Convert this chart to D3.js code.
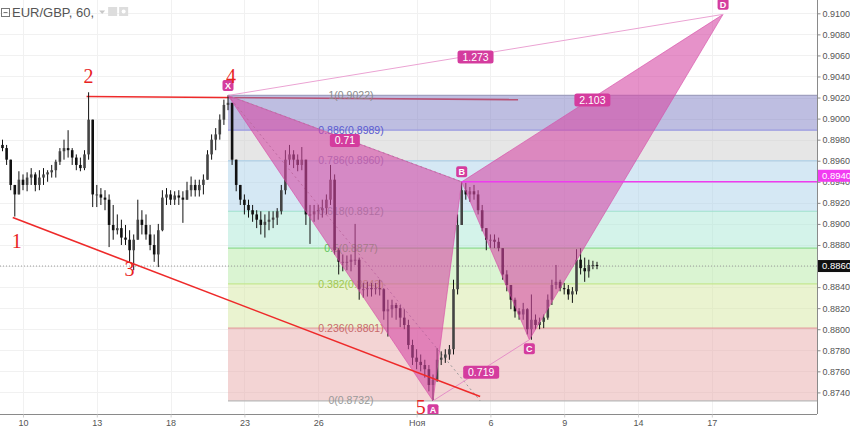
<!DOCTYPE html>
<html><head><meta charset="utf-8">
<script src="https://cdn.jsdelivr.net/npm/d3@7"></script>
<style>body{margin:0;background:#fff;}svg{display:block;font-family:"Liberation Sans",Arial,sans-serif;}</style>
</head><body><svg id="c" width="850" height="429"></svg>
<script>
// ---------- DATA ----------
// 4-hour bars (EUR/GBP), starting 20h before Oct 10 00:00 (trading-hour index)
const barStartHour = -20, barHours = 4, firstOpen = 0.8975;
const highs = [.8980,.8975,.8961,.8937,.8950,.8947,.8949,.8953,.8949,.8951,
.8953,.8951,.8956,.8961,.8972,.8980,.8989,.8972,.8966,.8963,
.8970,.9025,.8999,.8937,.8934,.8932,.8928,.8918,.8909,.8904,
.8899,.8894,.8890,.8923,.8913,.8909,.8899,.8890,.8900,.8932,
.8934,.8932,.8931,.8932,.8931,.8940,.8945,.8942,.8942,.8947,
.8970,.8985,.8991,.9004,.9018,.9022,.9015,.8961,.8937,.8928,
.8923,.8918,.8913,.8912,.8909,.8912,.8912,.8915,.8937,.8970,
.8975,.8970,.8966,.8973,.8961,.8918,.8918,.8918,.8923,.8928,
.8956,.8947,.8877,.8871,.8870,.8871,.8900,.8868,.8844,.8845,
.8844,.8844,.8847,.8839,.8828,.8828,.8825,.8823,.8819,.8809,
.8790,.8781,.8776,.8771,.8766,.8757,.8782,.8779,.8781,.8785,
.8847,.8909,.8940,.8939,.8935,.8937,.8932,.8918,.8896,.8890,
.8890,.8887,.8877,.8856,.8842,.8830,.8820,.8825,.8820,.8833,
.8814,.8811,.8814,.8833,.8847,.8861,.8847,.8844,.8842,.8840,
.8876,.8877,.8868,.8866,.8865,.8864];
const lows = [.8969,.8956,.8932,.8907,.8928,.8932,.8931,.8937,.8931,.8932,
.8937,.8940,.8944,.8944,.8956,.8961,.8963,.8956,.8951,.8950,
.8951,.8961,.8916,.8916,.8918,.8913,.8878,.8885,.8890,.8880,
.8880,.8864,.8856,.8885,.8890,.8885,.8875,.8864,.8859,.8893,
.8918,.8918,.8918,.8918,.8901,.8923,.8926,.8926,.8926,.8928,
.8942,.8961,.8970,.8980,.8994,.9008,.8956,.8931,.8918,.8909,
.8906,.8902,.8896,.8890,.8887,.8894,.8896,.8899,.8909,.8928,
.8956,.8953,.8950,.8951,.8899,.8881,.8902,.8904,.8906,.8909,
.8918,.8871,.8852,.8855,.8856,.8855,.8861,.8828,.8830,.8831,
.8831,.8833,.8832,.8809,.8793,.8811,.8809,.8802,.8800,.8781,
.8766,.8762,.8760,.8754,.8741,.8732,.8750,.8766,.8768,.8771,
.8776,.8833,.8899,.8923,.8921,.8923,.8909,.8893,.8875,.8877,
.8877,.8874,.8847,.8836,.8819,.8811,.8809,.8809,.8795,.8790,
.8800,.8800,.8801,.8809,.8823,.8838,.8836,.8833,.8828,.8825,
.8833,.8852,.8845,.8849,.8857,.8857];
const closes = [.8972,.8961,.8937,.8928,.8942,.8937,.8944,.8947,.8937,.8944,
.8947,.8949,.8951,.8959,.8969,.8972,.8970,.8963,.8956,.8953,
.8966,.8999,.8928,.8928,.8925,.8923,.8899,.8894,.8896,.8887,
.8885,.8875,.8885,.8904,.8899,.8890,.8880,.8871,.8894,.8925,
.8928,.8923,.8927,.8925,.8923,.8932,.8937,.8932,.8937,.8942,
.8966,.8980,.8985,.8999,.9013,.9015,.8961,.8937,.8923,.8918,
.8913,.8909,.8904,.8899,.8902,.8904,.8906,.8912,.8932,.8961,
.8966,.8961,.8956,.8961,.8909,.8909,.8912,.8913,.8915,.8923,
.8942,.8875,.8864,.8864,.8864,.8866,.8866,.8838,.8838,.8839,
.8838,.8839,.8838,.8817,.8819,.8823,.8820,.8811,.8804,.8785,
.8773,.8769,.8766,.8762,.8747,.8752,.8771,.8773,.8776,.8781,
.8838,.8899,.8932,.8928,.8931,.8928,.8913,.8896,.8885,.8885,
.8883,.8877,.8852,.8842,.8828,.8817,.8814,.8819,.8800,.8809,
.8804,.8807,.8811,.8828,.8842,.8845,.8839,.8838,.8833,.8836,
.8866,.8858,.8855,.8861,.8861,.8860];

const xTickHours = [0,72,144,216,288,384,456,528,600,672];
const xTickLabels = ["10","13","18","23","26","Ноя","6","9","14","17"];
const yTickLabels = ["0.8740","0.8760","0.8780","0.8800","0.8820","0.8840","0.8860","0.8880","0.8900","0.8920","0.8940","0.8960","0.8980","0.9000","0.9020","0.9040","0.9060","0.9080","0.9100"];

const fibLevels = ["0","0.236","0.382","0.5","0.618","0.786","0.886","1"];
const fibPrices = [0.8732,0.8801,0.8843,0.8877,0.8912,0.8960,0.8989,0.9022];
const fibAnchorHours = [200,446];
const fibZoneColors = ["#e7a9a9","#d5e7a1","#b5e9a5","#a9e7d5","#abd1e9","#cdcdcd","#7d7dc3"];
const fibLineColors = ["#b8b8b8","#e3a0a0","#c4e890","#90dc90","#9fe0cc","#a8cce6","#9a9ae0","#a0a0c0"];
const fibTextColors = ["#999999","#c86a6a","#a3c552","#5cc55c","#7aa5a0","#8a8ab8","#5a5ad0","#8a8a8a"];

const patternNames = ["X","A","B","C","D"];
const patternHours = [200,400,428,494,683];
const patternPrices = [0.9022,0.8732,0.8940,0.8790,0.9099];
const ratioPairs = [[0,2],[1,3],[2,4],[0,4]];
const ratioLabels = ["0.71","0.719","2.103","1.273"];

const waveLabels = ["1","2","3","4","5"];
const waveHours = [-6,64,104,203,388];
const wavePrices = [0.8884,0.9040,0.8857,0.9040,0.8726];

const levelLineHours = [62,483], levelLinePrices = [0.9021,0.9018];
const trendLineHours = [-10,446], trendLinePrices = [0.8906,0.8736];
const lastPrice = 0.8860;

// ---------- SCALES ----------
const W = 850, H = 429, PR = 817, PB = 414;
const x = d3.scaleLinear().domain([0,672]).range([23,711.8]);
const y = d3.scaleLinear().domain([0.8740,0.9100]).range([392.4,13.3]);
const svg = d3.select("#c");
svg.append("defs").append("clipPath").attr("id","clip").append("rect").attr("width",PR).attr("height",PB);
const plot = svg.append("g").attr("clip-path","url(#clip)");

// grid
plot.append("g").selectAll("line").data(yTickLabels).join("line")
  .attr("x1",0).attr("x2",PR).attr("y1",d=>Math.round(y(+d))+0.5).attr("y2",d=>Math.round(y(+d))+0.5)
  .attr("stroke","#f1f1f1");
plot.append("g").selectAll("line").data(xTickHours).join("line")
  .attr("x1",d=>Math.round(x(d))+0.5).attr("x2",d=>Math.round(x(d))+0.5).attr("y1",0).attr("y2",PB)
  .attr("stroke","#f1f1f1");

// red level line (under fib)
const redC = "#ee2a2a";
plot.append("line").attr("x1",x(levelLineHours[0])).attr("y1",y(levelLinePrices[0]))
  .attr("x2",x(levelLineHours[1])).attr("y2",y(levelLinePrices[1])).attr("stroke",redC).attr("stroke-width",1.6);

// fib zones
const fx0 = x(fibAnchorHours[0]);
for (let i=0;i<fibPrices.length-1;i++){
  plot.append("rect").attr("x",fx0).attr("width",PR-fx0)
    .attr("y",y(fibPrices[i+1])).attr("height",y(fibPrices[i])-y(fibPrices[i+1]))
    .attr("fill",fibZoneColors[i]).attr("fill-opacity",0.5);
}
fibPrices.forEach((p,i)=>{
  plot.append("line").attr("x1",fx0).attr("x2",PR).attr("y1",y(p)).attr("y2",y(p))
    .attr("stroke",fibLineColors[i]).attr("stroke-width",1.2);
  plot.append("text").attr("x",351).attr("y",y(p)).attr("dy","0.35em").attr("text-anchor","middle")
    .attr("font-size",10.5).attr("fill",fibTextColors[i]).text(`${fibLevels[i]}(${p.toFixed(4)})`);
});
// fib trend line (dashed)
plot.append("line").attr("x1",x(fibAnchorHours[0])).attr("y1",y(fibPrices[7]))
  .attr("x2",x(fibAnchorHours[1])).attr("y2",y(fibPrices[0]))
  .attr("stroke","#9a9a9a").attr("stroke-dasharray","2,3").attr("stroke-width",1);

// current price line
plot.append("line").attr("x1",0).attr("x2",PR).attr("y1",y(lastPrice)).attr("y2",y(lastPrice))
  .attr("stroke","#9a9a9a").attr("stroke-dasharray","1,2");

// candles
const bars = closes.map((c,i)=>{
  const o = i===0 ? firstOpen : closes[i-1];
  return {h: barStartHour + i*barHours, o, c, hi: Math.max(highs[i],o,c), lo: Math.min(lows[i],o,c)};
});
const cg = plot.append("g");
cg.selectAll("line").data(bars).join("line")
  .attr("x1",d=>x(d.h)).attr("x2",d=>x(d.h)).attr("y1",d=>y(d.hi)).attr("y2",d=>y(d.lo))
  .attr("stroke","#111").attr("stroke-width",1);
cg.selectAll("rect").data(bars).join("rect")
  .attr("x",d=>x(d.h)-1.3).attr("width",2.6)
  .attr("y",d=>Math.min(y(d.o),y(d.c))).attr("height",d=>Math.max(1,Math.abs(y(d.o)-y(d.c))))
  .attr("fill",d=>d.c>=d.o?"#444":"#111");

// pattern
const P = patternNames.map((n,i)=>({n, px:x(patternHours[i]), py:y(patternPrices[i])}));
const pink = "#d64aa5";
[[0,1,2],[2,3,4]].forEach(t=>{
  plot.append("path").attr("d",d3.line()(t.map(k=>[P[k].px,P[k].py]))+"Z")
    .attr("fill",pink).attr("fill-opacity",0.6).attr("stroke",pink).attr("stroke-opacity",0.6).attr("stroke-width",1);
});
// ratio lines
plot.append("line").attr("x1",P[1].px).attr("y1",P[1].py).attr("x2",P[3].px).attr("y2",P[3].py)
  .attr("stroke","#e68fc8").attr("stroke-width",1);
plot.append("line").attr("x1",P[0].px).attr("y1",P[0].py).attr("x2",P[4].px).attr("y2",P[4].py)
  .attr("stroke","#eba3d3").attr("stroke-width",1);
plot.append("line").attr("x1",P[0].px).attr("y1",P[0].py).attr("x2",P[2].px).attr("y2",P[2].py)
  .attr("stroke","#b07aa0").attr("stroke-dasharray","2,3");

// B level magenta line
plot.append("line").attr("x1",P[2].px).attr("x2",PR).attr("y1",P[2].py).attr("y2",P[2].py)
  .attr("stroke","#ee3cee").attr("stroke-width",1.6);

// red trend line
plot.append("line").attr("x1",x(trendLineHours[0])).attr("y1",y(trendLinePrices[0]))
  .attr("x2",x(trendLineHours[1])).attr("y2",y(trendLinePrices[1])).attr("stroke",redC).attr("stroke-width",1.6);

// ratio labels
const lblC = "#d43c9e";
ratioPairs.forEach(([a,b],i)=>{
  const cx=(P[a].px+P[b].px)/2, cy=(P[a].py+P[b].py)/2+2;
  const w = ratioLabels[i].length*6+6;
  plot.append("rect").attr("x",cx-w/2).attr("y",cy-6.5).attr("width",w).attr("height",13).attr("rx",2.5).attr("fill",lblC);
  plot.append("text").attr("x",cx).attr("y",cy).attr("dy","0.36em").attr("text-anchor","middle")
    .attr("font-size",10.5).attr("fill","#fff").text(ratioLabels[i]);
});
// point labels
const below = [false,true,false,true,false];
P.forEach((p,i)=>{
  const cy = below[i] ? p.py+9 : p.py-10;
  plot.append("rect").attr("x",p.px-5.5).attr("y",cy-5.5).attr("width",11).attr("height",11).attr("rx",2).attr("fill",lblC);
  plot.append("text").attr("x",p.px).attr("y",cy).attr("dy","0.36em").attr("text-anchor","middle")
    .attr("font-size",9).attr("font-weight","bold").attr("fill","#fff").text(p.n);
});
// wave labels
waveLabels.forEach((t,i)=>{
  svg.append("text").attr("x",x(waveHours[i])).attr("y",y(wavePrices[i])).attr("dy","0.35em")
    .attr("text-anchor","middle").attr("font-family","'Liberation Serif','Times New Roman',serif")
    .attr("font-size",20).attr("fill","#e8231f").text(t);
});

// ---------- AXES ----------
const yAxis = d3.axisRight(y).tickValues(yTickLabels.map(Number)).tickFormat((d,i)=>yTickLabels[i]).tickSize(3).tickPadding(2);
const ya = svg.append("g").attr("transform",`translate(${PR+0.5},0)`).call(yAxis);
ya.select(".domain").attr("stroke","#8a8a8a").attr("d",`M0,0V${PB}`);
ya.selectAll(".tick line").attr("stroke","#8a8a8a");
ya.selectAll(".tick text").attr("font-size",9).attr("fill","#555").attr("font-family","'Liberation Sans',Arial,sans-serif");

const xAxis = d3.axisBottom(x).tickValues(xTickHours).tickFormat((d,i)=>xTickLabels[i]).tickSize(3).tickPadding(2);
const xa = svg.append("g").attr("transform",`translate(0,${PB+0.5})`).call(xAxis);
xa.select(".domain").attr("stroke","#8a8a8a").attr("d",`M0,0H${PR}`);
xa.selectAll(".tick line").attr("stroke","#cfcfcf");
xa.selectAll(".tick text").attr("font-size",9).attr("fill","#555").attr("font-family","'Liberation Sans',Arial,sans-serif");

// price labels on axis
function priceTag(p, bg, yy){
  svg.append("rect").attr("x",PR+1).attr("y",yy-6).attr("width",W-PR-1).attr("height",12).attr("fill",bg);
  svg.append("text").attr("x",PR+5).attr("y",yy).attr("dy","0.35em").attr("font-size",9.5).attr("fill","#fff").text(p.toFixed(4));
}
priceTag(patternPrices[2], "#f23cf2", y(patternPrices[2])-6);
priceTag(lastPrice, "#111", y(lastPrice));

// ---------- TITLE ----------
const tg = svg.append("g");
tg.append("rect").attr("x",1.5).attr("y",8.5).attr("width",8).attr("height",8).attr("fill","none").attr("stroke","#777");
tg.append("line").attr("x1",3.5).attr("x2",7.5).attr("y1",12.5).attr("y2",12.5).attr("stroke","#777");
const tt = tg.append("text").attr("x",12).attr("y",17).attr("font-size",13).attr("fill","#555").text("EUR/GBP, 60,");
const tEnd = 12 + tt.node().getComputedTextLength();
tg.append("path").attr("d",`M${tEnd+5},10.5h6l-3,3.5z`).attr("fill","#c8c8c8");
tg.append("rect").attr("x",tEnd+14).attr("y",7).attr("width",9).attr("height",9).attr("fill","#ddd");
tg.append("rect").attr("x",tEnd+25).attr("y",7).attr("width",9).attr("height",9).attr("fill","#ddd");
tg.append("circle").attr("cx",tEnd+29.5).attr("cy",11.5).attr("r",2).attr("fill","#fff");
</script></body></html>
